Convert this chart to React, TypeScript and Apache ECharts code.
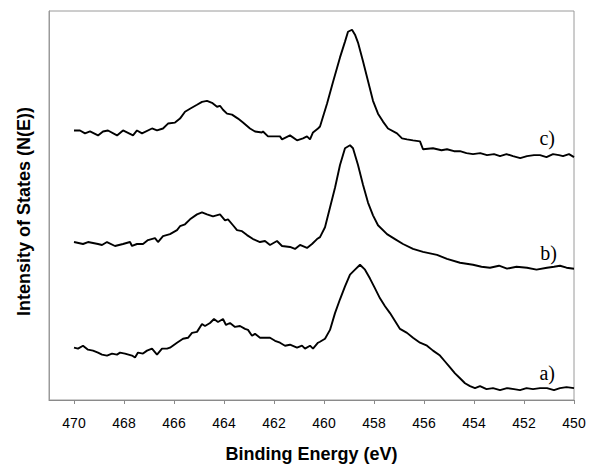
import React, { useEffect, useRef } from "react";
import * as echarts from "echarts";

// Binding energies (eV) and intensities (arbitrary units)
const energyA = [470.0, 469.84, 469.64, 469.44, 469.24, 469.04, 468.88, 468.68, 468.48, 468.28, 468.16, 467.96, 467.68, 467.56, 467.44, 467.24, 467.08, 466.88, 466.68, 466.48, 466.28, 466.16, 465.88, 465.64, 465.44, 465.28, 465.08, 464.88, 464.76, 464.56, 464.4, 464.24, 464.04, 463.92, 463.76, 463.56, 463.36, 463.16, 463.04, 462.88, 462.76, 462.56, 462.16, 461.96, 461.76, 461.56, 461.36, 461.08, 460.88, 460.76, 460.56, 460.44, 460.24, 460.16, 459.96, 459.76, 459.56, 459.36, 459.16, 458.96, 458.76, 458.56, 458.36, 458.16, 457.96, 457.76, 457.56, 457.36, 457.16, 456.96, 456.68, 456.44, 456.16, 455.88, 455.64, 455.36, 455.16, 454.96, 454.76, 454.56, 454.36, 454.16, 453.96, 453.76, 453.5, 453.24, 452.96, 452.68, 452.4, 452.16, 451.9, 451.64, 451.36, 451.08, 450.8, 450.56, 450.3, 450.0];
const intensityA = [53, 52, 55, 51, 50, 48, 46, 45, 47, 46, 48, 47, 45, 43, 48, 47, 50, 52, 46, 52, 52, 53, 58, 62, 63, 68, 69, 77, 75, 78, 82, 79, 82, 76, 78, 74, 75, 72, 71, 65, 67, 63, 63, 60, 58, 55, 56, 53, 55, 52, 55, 52, 58, 59, 62, 71, 88, 102, 115, 127, 132, 137, 132, 123, 113, 103, 95, 88, 80, 72, 68, 63, 58, 55, 50, 45, 39, 33, 27, 22, 17, 14, 12, 14, 11, 12, 10, 12, 11, 10, 12, 11, 12, 12, 10, 12, 13, 12];

const energyB = [470.0, 469.64, 469.44, 469.04, 468.88, 468.68, 468.36, 468.04, 467.76, 467.68, 467.48, 467.24, 467.04, 466.76, 466.64, 466.44, 466.16, 465.88, 465.76, 465.56, 465.36, 465.08, 464.88, 464.68, 464.44, 464.16, 463.96, 463.84, 463.64, 463.48, 463.28, 463.08, 462.84, 462.56, 462.36, 462.16, 461.88, 461.68, 461.36, 461.16, 460.96, 460.68, 460.48, 460.28, 460.16, 459.96, 459.76, 459.56, 459.36, 459.16, 458.96, 458.84, 458.64, 458.44, 458.24, 458.04, 457.84, 457.48, 457.16, 456.84, 456.44, 456.04, 455.48, 455.08, 454.56, 454.04, 453.7, 453.36, 453.0, 452.68, 452.3, 451.88, 451.5, 451.08, 450.8, 450.56, 450.3, 450.0];
const intensityB = [160, 158, 160, 158, 157, 160, 156, 158, 160, 156, 158, 158, 162, 164, 160, 166, 168, 172, 176, 178, 183, 188, 190, 188, 186, 188, 182, 183, 177, 172, 171, 167, 163, 160, 161, 157, 161, 156, 155, 153, 157, 154, 158, 163, 165, 175, 195, 215, 238, 255, 258, 255, 238, 218, 200, 187, 177, 168, 163, 158, 153, 150, 147, 143, 139, 137, 135, 134, 136, 133, 135, 134, 132, 134, 135, 136, 134, 133];

const energyC = [470.0, 469.76, 469.56, 469.36, 469.04, 468.84, 468.64, 468.28, 468.04, 467.64, 467.48, 467.28, 466.88, 466.68, 466.44, 466.24, 465.96, 465.76, 465.56, 465.36, 465.08, 464.88, 464.68, 464.48, 464.28, 464.16, 464.04, 463.88, 463.68, 463.44, 463.24, 462.96, 462.76, 462.48, 462.44, 462.24, 461.76, 461.68, 461.36, 461.08, 460.84, 460.68, 460.56, 460.44, 460.24, 460.16, 459.88, 459.64, 459.36, 459.16, 459.04, 458.88, 458.76, 458.64, 458.44, 458.24, 458.04, 457.84, 457.64, 457.44, 457.08, 456.88, 456.68, 456.44, 456.16, 456.04, 455.64, 455.3, 455.08, 454.8, 454.56, 454.3, 454.04, 453.75, 453.48, 453.2, 452.96, 452.7, 452.44, 452.15, 451.88, 451.6, 451.36, 451.1, 450.84, 450.6, 450.44, 450.2, 450.0];
const intensityC = [273, 273, 270, 272, 268, 272, 273, 268, 273, 268, 273, 270, 275, 273, 275, 280, 281, 285, 292, 295, 299, 302, 303, 301, 297, 298, 294, 290, 289, 285, 281, 275, 272, 271, 272, 267, 267, 264, 268, 263, 265, 267, 264, 271, 275, 277, 300, 322, 347, 363, 373, 375, 370, 362, 343, 323, 303, 290, 282, 275, 270, 265, 264, 263, 262, 254, 255, 253, 254, 252, 252, 250, 249, 250, 248, 249, 247, 249, 247, 245, 247, 248, 248, 246, 249, 248, 247, 249, 246];

const xTicks = [450, 452, 454, 456, 458, 460, 462, 464, 466, 468, 470];
const curveLabels = ["a)", "b)", "c)"];

const pairs = (xs: number[], ys: number[]) => xs.map((x, i) => [x, ys[i]]);

export default function App() {
  const ref = useRef<HTMLDivElement>(null);
  useEffect(() => {
    document.body.style.margin = "0";
    if (!ref.current) return;
    const chart = echarts.init(ref.current, undefined, { renderer: "svg" });
    const lineStyle = { color: "#000000", width: 1.9 };
    const serif = "20px 'Liberation Serif', 'Times New Roman', serif";
    chart.setOption({
      animation: false,
      backgroundColor: "#ffffff",
      grid: {
        left: 49,
        top: 11,
        right: 15,
        bottom: 63,
        show: true,
        borderColor: "#9a9a9a",
        borderWidth: 1,
      },
      xAxis: {
        type: "value",
        min: 450,
        max: 471,
        interval: 2,
        inverse: true,
        name: "Binding Energy (eV)",
        nameLocation: "middle",
        nameGap: 45,
        nameTextStyle: {
          fontFamily: "Liberation Sans, Arial, sans-serif",
          fontWeight: "bold",
          fontSize: 18,
          color: "#000",
        },
        axisLine: { show: true, lineStyle: { color: "#8a8a8a", width: 1 } },
        axisTick: {
          show: true,
          length: 4,
          inside: false,
          customValues: xTicks,
          lineStyle: { color: "#8a8a8a" },
        },
        axisLabel: {
          customValues: xTicks,
          margin: 16,
          fontFamily: "Liberation Sans, Arial, sans-serif",
          fontSize: 14,
          color: "#000",
        },
        splitLine: { show: false },
      },
      yAxis: {
        type: "value",
        min: 0,
        max: 394,
        name: "Intensity of States (N(E))",
        nameLocation: "middle",
        nameGap: 16,
        nameRotate: 90,
        nameTextStyle: {
          fontFamily: "Liberation Sans, Arial, sans-serif",
          fontWeight: "bold",
          fontSize: 18,
          color: "#000",
          padding: [0, 12, 0, 0],
        },
        axisLine: { show: true, lineStyle: { color: "#9a9a9a" } },
        axisTick: { show: false },
        axisLabel: { show: false },
        splitLine: { show: false },
      },
      series: [
        { name: "a", type: "line", data: pairs(energyA, intensityA), showSymbol: false, lineStyle, silent: true },
        { name: "b", type: "line", data: pairs(energyB, intensityB), showSymbol: false, lineStyle, silent: true },
        { name: "c", type: "line", data: pairs(energyC, intensityC), showSymbol: false, lineStyle, silent: true },
      ],
      graphic: [
        { type: "text", right: 34, top: 363, style: { text: curveLabels[0], font: serif, fill: "#000" } },
        { type: "text", right: 32, top: 243, style: { text: curveLabels[1], font: serif, fill: "#000" } },
        { type: "text", right: 34, top: 128, style: { text: curveLabels[2], font: serif, fill: "#000" } },
      ],
    });
    return () => chart.dispose();
  }, []);
  return <div ref={ref} style={{ width: 589, height: 468 }} />;
}
